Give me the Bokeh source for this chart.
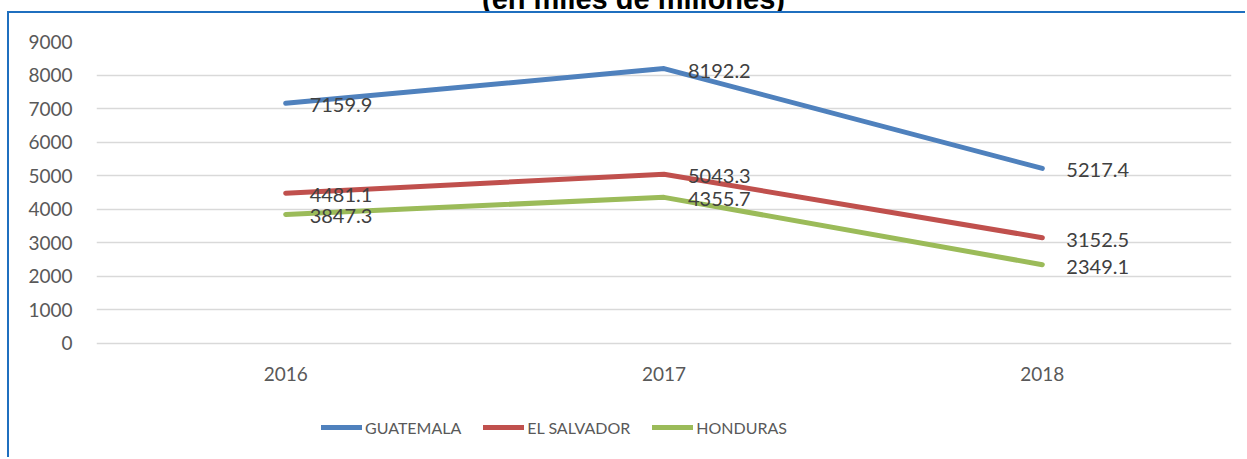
from bokeh.plotting import figure
from bokeh.layouts import column
from bokeh.models import FactorRange, Range1d, FixedTicker, Legend, LegendItem, ColumnDataSource, Div
from bokeh.core.properties import value
from bokeh.embed import file_html
from bokeh.resources import INLINE

years = ["2016", "2017", "2018"]
guatemala = [7159.9, 8192.2, 5217.4]
el_salvador = [4481.1, 5043.3, 3152.5]
honduras = [3847.3, 4355.7, 2349.1]
series_names = ["GUATEMALA", "EL SALVADOR", "HONDURAS"]
y_ticks = [0, 1000, 2000, 3000, 4000, 5000, 6000, 7000, 8000, 9000]
title_text = "(en miles de millones)"

colors = ["#4F81BD", "#C0504D", "#9BBB59"]
FONT = "Lato"
BORDER = "2px solid #1F6FBF"

title = Div(text=('<div style="position:relative;top:-15px;left:482px;white-space:nowrap;'
                  'font-family:\'Liberation Sans\';font-weight:bold;font-size:29px;'
                  'line-height:29px;color:black">' + title_text + '</div>'),
            width=1247, height=11, styles={"overflow": "hidden", "margin": "0", "padding": "0"})

# frame spans from the 9000 gridline down to the bottom of the canvas; the
# area under 0 holds the category labels and the legend
p = figure(x_range=FactorRange(*years, range_padding=0), y_range=Range1d(-3457, 9000),
           width=1238, height=446, output_backend="svg", toolbar_location=None,
           min_border_left=87, min_border_right=16, min_border_top=28, min_border_bottom=0)
p.styles = {"margin-left": "7px", "border-left": BORDER, "border-top": BORDER}
p.outline_line_color = None
p.background_fill_color = "white"
p.border_fill_color = "white"

p.yaxis.ticker = FixedTicker(ticks=y_ticks)
p.xaxis.fixed_location = 0
for ax in (p.xaxis[0], p.yaxis[0]):
    ax.axis_line_color = None
    ax.major_tick_line_color = None
    ax.minor_tick_line_color = None
    ax.major_tick_out = 0
    ax.major_tick_in = 0
    ax.major_label_text_font = FONT
    ax.major_label_text_font_size = "19px"
    ax.major_label_text_color = "#595959"
    ax.major_label_standoff = 24
p.xgrid.grid_line_color = None
p.ygrid.grid_line_color = "#D9D9D9"
p.ygrid.grid_line_width = 1.5

items = []
for name, vals, col in zip(series_names, [guatemala, el_salvador, honduras], colors):
    src = ColumnDataSource(dict(x=years, y=vals, t=[f"{v:.1f}" for v in vals]))
    r = p.line("x", "y", source=src, line_color=col, line_width=5, line_cap="round", line_join="round")
    p.text("x", "y", text="t", source=src, x_offset=24, y_offset=2, text_baseline="middle",
           text_align="left", text_font=value(FONT), text_font_size="20px", text_color="#404040")
    items.append(LegendItem(label=name, renderers=[r]))

legend = Legend(items=items, orientation="horizontal", location=(225, 22),
                padding=0, margin=0, spacing=22, label_standoff=3,
                glyph_width=41, glyph_height=20, label_height=20,
                label_text_font=FONT, label_text_font_size="16px", label_text_color="#595959",
                border_line_color=None, background_fill_alpha=0)
p.add_layout(legend)

layout = column(title, p, spacing=0)
open("out.html", "w").write(file_html(layout, INLINE))
